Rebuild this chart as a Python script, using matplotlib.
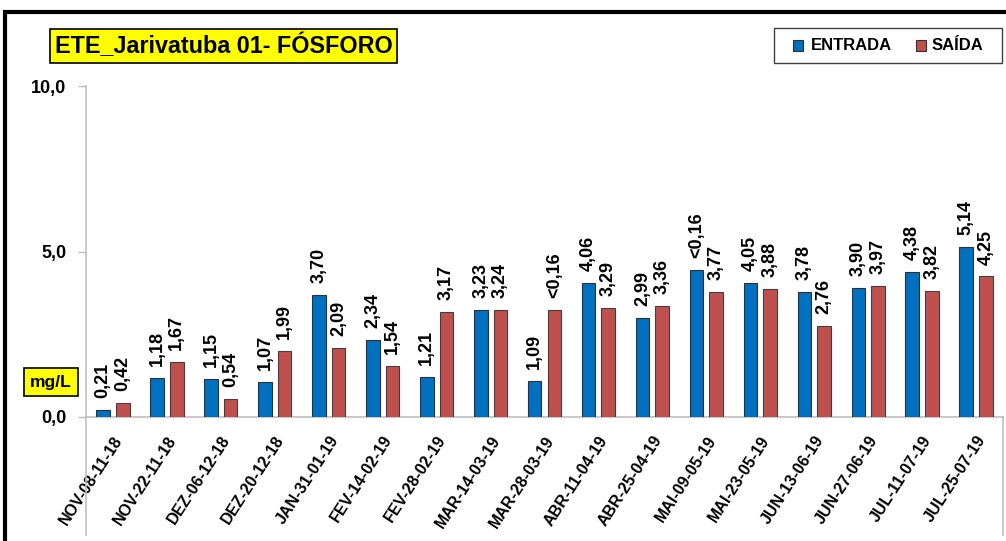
import matplotlib
matplotlib.use("Agg")
import matplotlib.pyplot as plt
from matplotlib.patches import Rectangle
from matplotlib.lines import Line2D
import matplotlib.transforms as mtransforms
import numpy as np

plt.rcParams['font.family'] = ['Liberation Sans', 'DejaVu Sans']
plt.rcParams['font.weight'] = 'bold'

categories = ["NOV-08-11-18", "NOV-22-11-18", "DEZ-06-12-18", "DEZ-20-12-18",
              "JAN-31-01-19", "FEV-14-02-19", "FEV-28-02-19", "MAR-14-03-19",
              "MAR-28-03-19", "ABR-11-04-19", "ABR-25-04-19", "MAI-09-05-19",
              "MAI-23-05-19", "JUN-13-06-19", "JUN-27-06-19", "JUL-11-07-19",
              "JUL-25-07-19"]
entrada = [0.21, 1.18, 1.15, 1.07, 3.70, 2.34, 1.21, 3.23, 1.09, 4.06, 2.99,
           4.44, 4.05, 3.78, 3.90, 4.38, 5.14]
saida = [0.42, 1.67, 0.54, 1.99, 2.09, 1.54, 3.17, 3.24, 3.24, 3.29, 3.36,
         3.77, 3.88, 2.76, 3.97, 3.82, 4.25]
entrada_labels = ["0,21", "1,18", "1,15", "1,07", "3,70", "2,34", "1,21", "3,23",
                  "1,09", "4,06", "2,99", "<0,16", "4,05", "3,78", "3,90", "4,38",
                  "5,14"]
saida_labels = ["0,42", "1,67", "0,54", "1,99", "2,09", "1,54", "3,17", "3,24",
                "<0,16", "3,29", "3,36", "3,77", "3,88", "2,76", "3,97", "3,82",
                "4,25"]
series_names = ["ENTRADA", "SAÍDA"]
yticks = [0.0, 5.0, 10.0]
ytick_labels = ["0,0", "5,0", "10,0"]

W, H = 1006, 541
fig = plt.figure(figsize=(W / 100, H / 100), dpi=100)
ax = fig.add_axes([86 / W, 1 - 417 / H, (1003 - 86) / W, (417 - 86) / H])

x = np.arange(len(categories))
bw = 0.252
off = 0.182
blue = '#0070C0'
red = '#C0504D'
ax.bar(x - off, entrada, bw, color=blue, edgecolor='#303030', linewidth=0.8, zorder=3)
ax.bar(x + off, saida, bw, color=red, edgecolor='#404040', linewidth=0.8, zorder=3)

for xi, v, t in zip(x - off, entrada, entrada_labels):
    ax.annotate(t, (xi, v), xytext=(0, 8.5), textcoords='offset points',
                rotation=90, ha='center', va='bottom', fontsize=13, fontweight='bold')
for xi, v, t in zip(x + off, saida, saida_labels):
    ax.annotate(t, (xi, v), xytext=(0, 8.5), textcoords='offset points',
                rotation=90, ha='center', va='bottom', fontsize=13, fontweight='bold')

ax.set_xlim(-0.5, len(categories) - 0.5)
ax.set_ylim(0, 10)
ax.set_yticks(yticks)
ax.set_yticklabels(ytick_labels, fontsize=13, fontweight='bold')
ax.set_xticks(x)
ax.set_xticklabels(categories, rotation=57, ha='right', rotation_mode='anchor',
                   fontsize=11.5, fontweight='bold')
shift = mtransforms.ScaledTranslation(4 / 100, 0, fig.dpi_scale_trans)
for lab in ax.get_xticklabels():
    lab.set_transform(lab.get_transform() + shift)
ax.tick_params(axis='x', length=0, pad=11.5)
ax.tick_params(axis='y', length=6, color='#BFBFBF', width=1, pad=8)
for s in ['top', 'right']:
    ax.spines[s].set_visible(False)
for s in ['left', 'bottom']:
    ax.spines[s].set_color('#BFBFBF')
    ax.spines[s].set_linewidth(1.2)

# extension lines below the axis
fig.add_artist(Line2D([86 / W, 86 / W], [1 - 417 / H, 1 - 535 / H], color='#BFBFBF', lw=1.2))
fig.add_artist(Line2D([1003 / W, 1003 / W], [1 - 417 / H, 1 - 535 / H], color='#BFBFBF', lw=1.2))

# outer frame
fig.add_artist(Rectangle((5 / W, -0.2), 1.2, 1.2 - 11.5 / H, transform=fig.transFigure,
                         fill=False, edgecolor='black', linewidth=3))

# title
fig.text(55 / W, 1 - 46 / H, "ETE_Jarivatuba 01- FÓSFORO", fontsize=16.8, fontweight='bold',
         ha='left', va='center',
         bbox=dict(boxstyle='square,pad=0.2', facecolor='#FFFF00', edgecolor='black', linewidth=1.2))

# unit box
fig.text(51 / W, 1 - 382 / H, "mg/L", fontsize=12.5, fontweight='bold', ha='center', va='center',
         bbox=dict(boxstyle='square,pad=0.35', facecolor='#FFFF00', edgecolor='black', linewidth=1.2))

# legend (drawn manually)
fig.add_artist(Rectangle((774 / W, 1 - 63 / H), (1002 - 774) / W, 35 / H,
                         transform=fig.transFigure, facecolor='white',
                         edgecolor='#404040', linewidth=1.0))
for mx, tx, col, name in [(798, 811, blue, series_names[0]), (921, 932, red, series_names[1])]:
    fig.add_artist(Rectangle((mx / W - 5 / W, 1 - 50.5 / H), 10 / W, 10 / H,
                             transform=fig.transFigure, facecolor=col,
                             edgecolor='#303030', linewidth=0.8))
    fig.text(tx / W, 1 - 45.5 / H, name, fontsize=12, fontweight='bold',
             ha='left', va='center')

fig.savefig('out.png', dpi=100)
